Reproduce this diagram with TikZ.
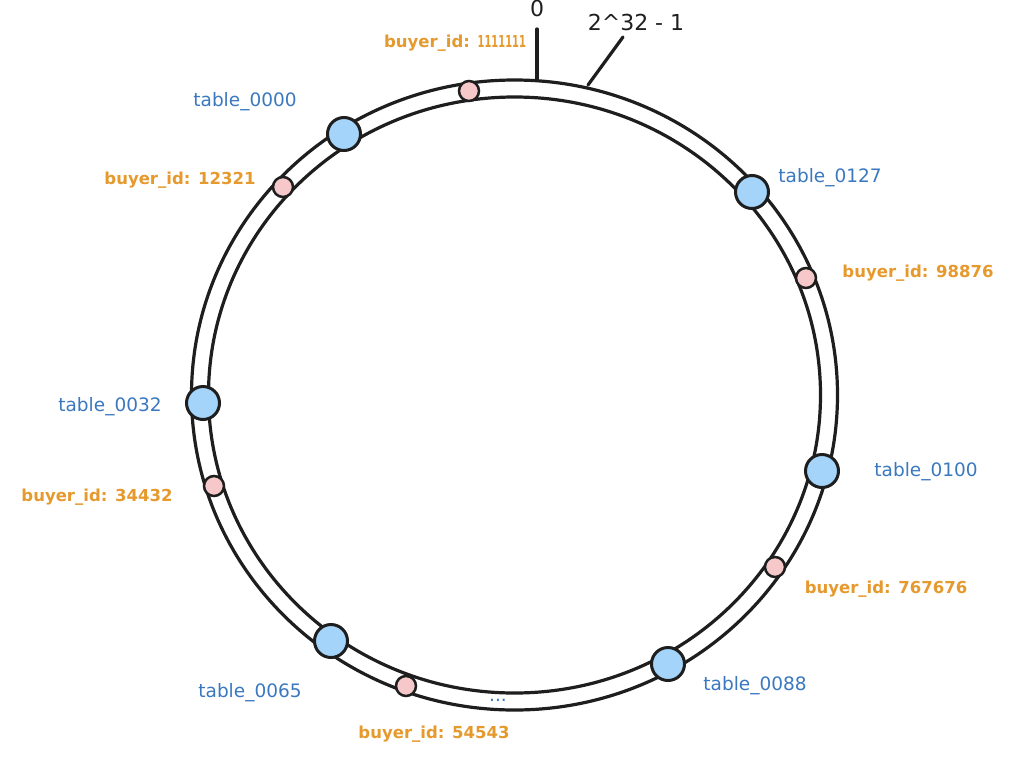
\documentclass[tikz,border=0pt]{standalone}
\usepackage{fontspec}
\setmainfont{DejaVu Sans}
\definecolor{ink}{HTML}{1E1E1E}
\definecolor{tblue}{HTML}{3A78C0}
\definecolor{torange}{HTML}{E69A2E}
\definecolor{bfill}{HTML}{A5D4FA}
\definecolor{pfill}{HTML}{F7C8CA}
\begin{document}
\begin{tikzpicture}[x=1pt,y=-1pt,
  ring/.style={draw=ink,line width=3.2pt},
  tick/.style={draw=ink,line width=3.2pt,line cap=round},
  tblnode/.style={circle,draw=ink,line width=3pt,fill=bfill,minimum size=33pt,inner sep=0pt},
  buynode/.style={circle,draw=ink,line width=2.5pt,fill=pfill,minimum size=20pt,inner sep=0pt},
  tlabel/.style={text=tblue,font=\fontsize{18.5}{20}\selectfont,inner sep=0pt},
  blabel/.style={text=torange,font=\bfseries\fontsize{16.5}{19}\selectfont,inner sep=0pt},
  klabel/.style={text=ink,font=\fontsize{22}{24}\selectfont,inner sep=0pt}]
\useasboundingbox (0,0) rectangle (1034,756);
\fill[white] (0,0) rectangle (1034,756);
% ring
\draw[ring] (514.5,395) ellipse [x radius=323, y radius=315];
\draw[ring] (514.5,395) ellipse [x radius=306, y radius=298];
% top ticks
\coordinate (z0) at (537,79);
\coordinate (z0top) at (537,29);
\coordinate (zmax) at (588,85);
\coordinate (zmaxtop) at (623,37);
\draw[tick] (z0) -- (z0top);
\draw[tick] (zmax) -- (zmaxtop);
\node[klabel] (lzero) at (537,8) {0};
\node[klabel] (lmax) at (636,22) {2\textasciicircum 32 - 1};
% table nodes
\node[tblnode] (t0000) at (344,134) {};
\node[tblnode] (t0127) at (752,192) {};
\node[tblnode] (t0032) at (203,403) {};
\node[tblnode] (t0100) at (822,471) {};
\node[tblnode] (t0065) at (331,641) {};
\node[tblnode] (t0088) at (668,664) {};
% buyer nodes
\node[buynode] (b1111111) at (469,91) {};
\node[buynode] (b12321) at (283,187) {};
\node[buynode] (b98876) at (806,278) {};
\node[buynode] (b34432) at (214,486) {};
\node[buynode] (b767676) at (775,567) {};
\node[buynode] (b54543) at (406,686) {};
% table labels
\node[tlabel] (l0000) at (245,102) {table\_0000};
\node[tlabel] (l0127) at (830,178) {table\_0127};
\node[tlabel] (l0032) at (110,407) {table\_0032};
\node[tlabel] (l0100) at (926,472) {table\_0100};
\node[tlabel] (l0065) at (250,693) {table\_0065};
\node[tlabel] (l0088) at (755,686) {table\_0088};
\node[tlabel] (ldots) at (498,700) {...};
% buyer labels
\node[blabel] (lb1111111) at (455,43) {buyer\_id: \scalebox{0.6}[1]{1111111}};
\node[blabel] (lb12321) at (180,180) {buyer\_id: 12321};
\node[blabel] (lb98876) at (918,273) {buyer\_id: 98876};
\node[blabel] (lb34432) at (97,497) {buyer\_id: 34432};
\node[blabel] (lb767676) at (886,589) {buyer\_id: 767676};
\node[blabel] (lb54543) at (434,734) {buyer\_id: 54543};
\end{tikzpicture}
\end{document}
